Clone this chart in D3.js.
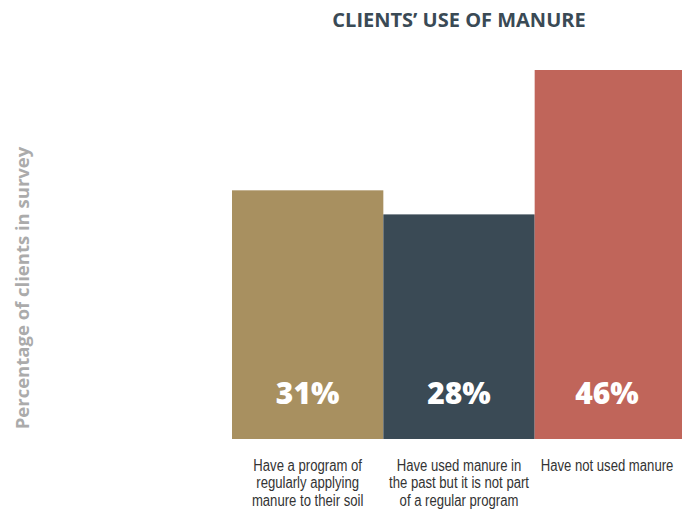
<!DOCTYPE html>
<html>
<head>
<meta charset="utf-8">
<script src="https://cdn.jsdelivr.net/npm/d3@7"></script>
<style>
  html, body { margin: 0; padding: 0; background: #fff; }
  svg { display: block; }
</style>
</head>
<body>
<div id="chart"></div>
<script>
const categories = [
  ["Have a program of", "regularly applying", "manure to their soil"],
  ["Have used manure in", "the past but it is not part", "of a regular program"],
  ["Have not used manure"]
];
const values = [31, 28, 46];
const valueLabels = ["31%", "28%", "46%"];
const colors = ["#a89060", "#3a4a55", "#c0655a"];
const title = "CLIENTS’ USE OF MANURE";
const yTitle = "Percentage of clients in survey";

const W = 682, H = 513;
const svg = d3.select("#chart").append("svg").attr("width", W).attr("height", H);

const x = d3.scaleBand().domain(d3.range(values.length)).range([232, 686]).padding(0);
const y = d3.scaleLinear().domain([0, 46]).range([439, 70]);

svg.append("text")
  .attr("x", 459).attr("y", 27)
  .attr("text-anchor", "middle")
  .attr("font-family", "'Open Sans', sans-serif")
  .attr("font-weight", "bold")
  .attr("font-size", 20)
  .attr("fill", "#3a4a55")
  .text(title);

svg.append("text")
  .attr("transform", "translate(29,288) rotate(-90)")
  .attr("text-anchor", "middle")
  .attr("font-family", "'Open Sans', sans-serif")
  .attr("font-weight", "bold")
  .attr("font-size", 18.5)
  .attr("fill", "#ababab")
  .text(yTitle);

svg.selectAll("rect.bar").data(values).enter().append("rect")
  .attr("class", "bar")
  .attr("x", (d, i) => x(i))
  .attr("width", x.bandwidth())
  .attr("y", d => y(d))
  .attr("height", d => y(0) - y(d))
  .attr("fill", (d, i) => colors[i]);

svg.selectAll("text.val").data(valueLabels).enter().append("text")
  .attr("class", "val")
  .attr("x", (d, i) => Math.min(x(i) + x.bandwidth() / 2, 607))
  .attr("y", 404)
  .attr("text-anchor", "middle")
  .attr("font-family", "'Open Sans', sans-serif")
  .attr("font-weight", "800")
  .attr("font-size", 30)
  .attr("fill", "#ffffff")
  .text(d => d);

const sx = 0.82;
const catG = svg.selectAll("g.cat").data(categories).enter().append("g")
  .attr("class", "cat")
  .attr("transform", (d, i) => `translate(${Math.min(x(i) + x.bandwidth() / 2, 607)},471) scale(${sx},1)`);
catG.each(function(lines) {
  const t = d3.select(this).append("text")
    .attr("x", 0).attr("y", 0)
    .attr("text-anchor", "middle")
    .attr("font-family", "'Liberation Sans', Arial, sans-serif")
    .attr("font-size", 16)
    .attr("fill", "#333333");
  lines.forEach((l, j) => {
    t.append("tspan")
      .attr("x", 0)
      .attr("dy", j === 0 ? 0 : 17.5)
      .text(l);
  });
});
</script>
</body>
</html>
